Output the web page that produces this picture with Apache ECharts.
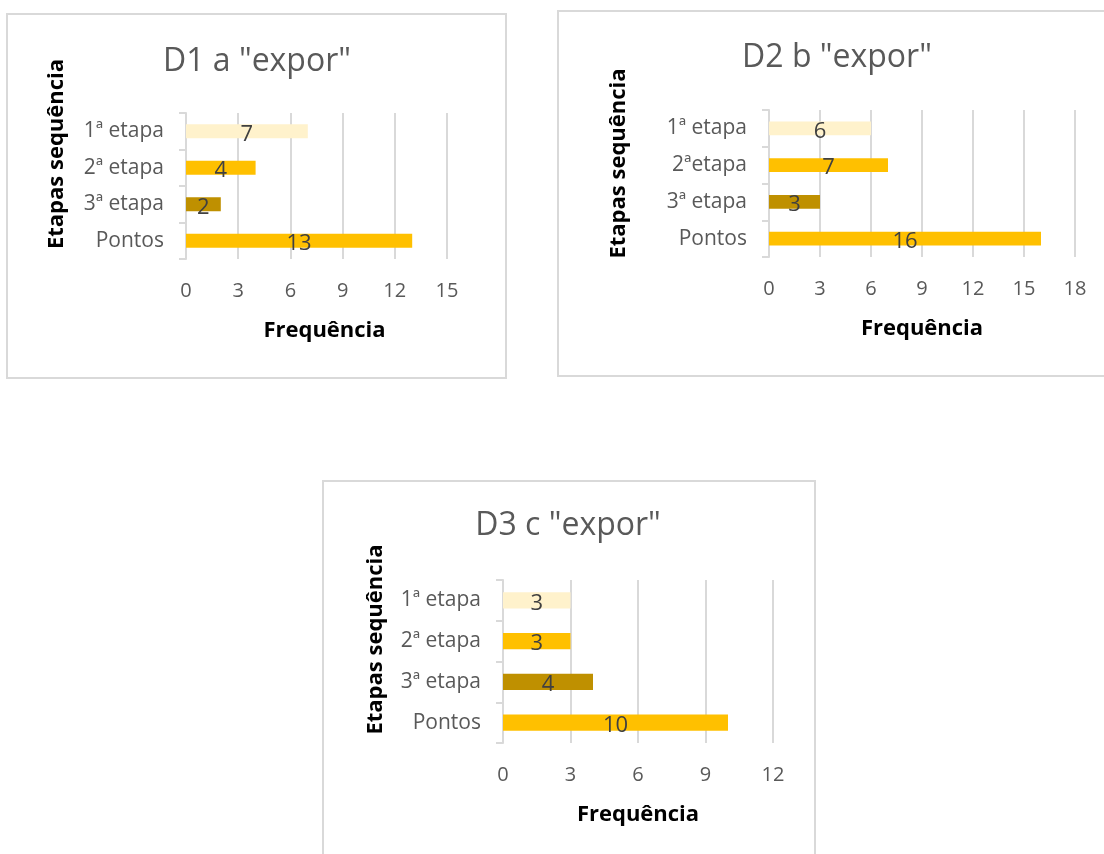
<!DOCTYPE html>
<html>
<head>
<meta charset="utf-8">
<style>
  html, body { margin: 0; padding: 0; background: #ffffff; }
  #chart { width: 1104px; height: 854px; }
</style>
<script src="https://cdn.jsdelivr.net/npm/echarts@6/dist/echarts.min.js"></script>
</head>
<body>
<div id="chart"></div>
<script>
// Frequência por etapa da sequência, três descritores
const titles = ['D1 a "expor"', 'D2 b "expor"', 'D3 c "expor"'];
const categoriesD1 = ['1ª etapa', '2ª etapa', '3ª etapa', 'Pontos'];
const categoriesD2 = ['1ª etapa', '2ªetapa', '3ª etapa', 'Pontos'];
const categoriesD3 = ['1ª etapa', '2ª etapa', '3ª etapa', 'Pontos'];
const valuesD1 = [7, 4, 2, 13];
const valuesD2 = [6, 7, 3, 16];
const valuesD3 = [3, 3, 4, 10];
const axisMaxes = [15, 18, 12];
const xAxisTitle = 'Frequência';
const yAxisTitle = 'Etapas sequência';

const barColors = ['#FFF2CC', '#FFC000', '#BF9000', '#FFC000'];
const FONT = '"Open Sans", "Noto Sans", sans-serif';
const GREY = '#d9d9d9';

const panels = [
  { cats: categoriesD1, vals: valuesD1, max: axisMaxes[0],
    grid: { left: 186, top: 113, width: 261, height: 146 },
    titleX: 257, titleTop: 46, gap: '62%', yNameGap: 118, yNameShift: 64, xNameShift: 16,
    box: [7, 14, 499, 364] },
  { cats: categoriesD2, vals: valuesD2, max: axisMaxes[1],
    grid: { left: 769, top: 110, width: 306, height: 147 },
    titleX: 837, titleTop: 42, gap: '62%', yNameGap: 139, yNameShift: 40, xNameShift: 0,
    box: [558, 11, 560, 365] },
  { cats: categoriesD3, vals: valuesD3, max: axisMaxes[2],
    grid: { left: 503, top: 580, width: 270, height: 163 },
    titleX: 568, titleTop: 510, gap: '60%', yNameGap: 116, yNameShift: 44, xNameShift: 0,
    box: [323, 481, 492, 400] }
];

const option = {
  animation: false,
  backgroundColor: '#ffffff',
  textStyle: { fontFamily: FONT },
  title: panels.map((p, i) => ({
    text: titles[i],
    left: p.titleX,
    top: p.titleTop,
    textAlign: 'center',
    padding: 0,
    textStyle: { fontFamily: FONT, fontSize: 32, fontWeight: 'normal', color: '#595959' }
  })),
  graphic: panels.map(p => ({
    type: 'rect',
    silent: true,
    z: -10,
    shape: { x: p.box[0], y: p.box[1], width: p.box[2], height: p.box[3] },
    style: { fill: '#ffffff', stroke: GREY, lineWidth: 2 }
  })),
  grid: panels.map(p => Object.assign({ containLabel: false }, p.grid)),
  xAxis: panels.map((p, i) => ({
    type: 'value',
    gridIndex: i,
    min: 0,
    max: p.max,
    interval: 3,
    name: xAxisTitle,
    nameLocation: 'middle',
    nameGap: 61,
    nameTextStyle: { fontFamily: FONT, fontSize: 22, fontWeight: 'bold', color: '#000000',
                     padding: [0, 0, 0, p.xNameShift] },
    axisLine: { show: false },
    axisTick: { show: false },
    axisLabel: { margin: 22, fontSize: 20, color: '#595959', fontFamily: FONT },
    splitLine: { show: true, lineStyle: { color: GREY, width: 2 } }
  })),
  yAxis: panels.map((p, i) => ({
    type: 'category',
    gridIndex: i,
    data: p.cats,
    inverse: true,
    name: yAxisTitle,
    nameLocation: 'middle',
    nameRotate: 90,
    nameGap: p.yNameGap,
    nameTextStyle: { fontFamily: FONT, fontSize: 22, fontWeight: 'bold', color: '#000000',
                     padding: [0, 0, 0, p.yNameShift] },
    axisLine: { show: true, lineStyle: { color: GREY, width: 2 } },
    axisTick: { show: true, length: 7, lineStyle: { color: GREY, width: 2 } },
    axisLabel: { margin: 22, fontSize: 21, color: '#595959', fontFamily: FONT },
    splitLine: { show: false }
  })),
  series: panels.map((p, i) => ({
    type: 'bar',
    xAxisIndex: i,
    yAxisIndex: i,
    barCategoryGap: p.gap,
    data: p.vals.map((v, k) => ({ value: v, itemStyle: { color: barColors[k] } })),
    label: {
      show: true,
      position: 'inside',
      offset: [0, 3],
      fontFamily: FONT,
      fontSize: 22,
      color: '#404040'
    }
  }))
};

const chart = echarts.init(document.getElementById('chart'), null, { renderer: 'canvas' });
chart.setOption(option);
</script>
</body>
</html>
